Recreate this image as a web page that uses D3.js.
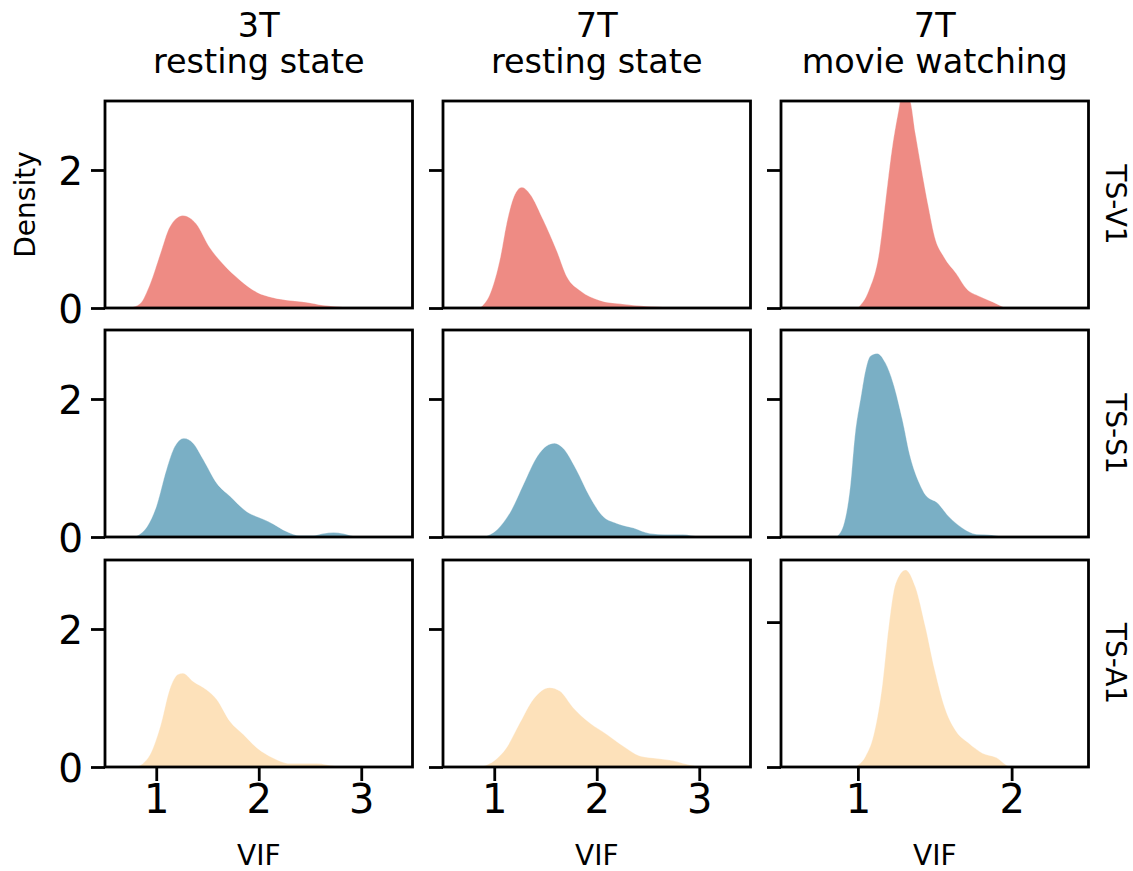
<!DOCTYPE html>
<html>
<head>
<meta charset="utf-8">
<script src="https://cdn.jsdelivr.net/npm/d3@7"></script>
<style>
  body { margin: 0; background: #fff; }
  text { font-family: "DejaVu Sans", sans-serif; fill: #000; }
</style>
</head>
<body>
<div id="chart"></div>
<script>
// column / row categories
var cols = [["3T", "resting state"], ["7T", "resting state"], ["7T", "movie watching"]];
var rows = ["TS-V1", "TS-S1", "TS-A1"];
var colors = ["#ee8b84", "#7aafc5", "#fde1ba"];

// tick labels
var xTicks = [[1, 2, 3], [1, 2, 3], [1, 2]];
var xDomains = [[0.5, 3.5], [0.5, 3.5], [0.5, 2.5]];
var yTicks = [0, 2];
// y limit of each panel (row by row)
var yMax = [[3, 3, 3], [3, 3, 3], [3, 3, 2.857]];

// density curves: [VIF, density]
var v1_3T = [[0.74,0],[0.84,0.06],[0.94,0.35],[1.04,0.79],[1.13,1.17],[1.26,1.34],[1.39,1.22],[1.52,0.88],[1.65,0.64],[1.82,0.40],[1.98,0.23],[2.14,0.15],[2.3,0.11],[2.46,0.085],[2.63,0.04],[2.82,0.015],[3.05,0]];
var v1_7Tr = [[0.86,0],[0.96,0.21],[1.06,0.74],[1.12,1.22],[1.19,1.61],[1.27,1.75],[1.35,1.65],[1.48,1.27],[1.61,0.83],[1.71,0.45],[1.84,0.25],[2.03,0.11],[2.23,0.06],[2.49,0.025],[2.8,0.005],[3.0,0]];
var v1_7Tm = [[1.0,0],[1.07,0.25],[1.14,0.83],[1.18,1.56],[1.22,2.28],[1.26,2.81],[1.29,3.12],[1.34,3.0],[1.375,2.52],[1.42,1.94],[1.46,1.46],[1.5,1.03],[1.56,0.74],[1.64,0.5],[1.71,0.27],[1.79,0.17],[1.88,0.085],[1.96,0]];
var s1_3T = [[0.78,0],[0.91,0.15],[1.0,0.44],[1.1,0.98],[1.18,1.31],[1.27,1.43],[1.36,1.36],[1.46,1.12],[1.59,0.78],[1.72,0.59],[1.88,0.37],[2.04,0.26],[2.14,0.19],[2.27,0.08],[2.4,0.02],[2.53,0.02],[2.63,0.05],[2.73,0.065],[2.82,0.05],[2.95,0.005],[3.0,0]];
var s1_7Tr = [[0.9,0],[1.03,0.11],[1.16,0.37],[1.29,0.78],[1.42,1.17],[1.51,1.32],[1.59,1.36],[1.67,1.29],[1.8,0.98],[1.93,0.59],[2.06,0.3],[2.19,0.2],[2.36,0.13],[2.52,0.05],[2.68,0.035],[2.84,0.035],[3.0,0.005],[3.1,0]];
var s1_7Tm = [[0.86,0],[0.91,0.2],[0.95,0.73],[0.98,1.46],[1.02,2.04],[1.05,2.42],[1.08,2.62],[1.125,2.66],[1.18,2.52],[1.23,2.23],[1.29,1.7],[1.34,1.17],[1.4,0.78],[1.44,0.61],[1.52,0.49],[1.59,0.3],[1.68,0.13],[1.77,0.04],[1.87,0.03],[1.96,0]];
var a1_3T = [[0.81,0],[0.94,0.18],[1.04,0.59],[1.13,1.12],[1.21,1.34],[1.26,1.36],[1.36,1.24],[1.49,1.12],[1.59,0.98],[1.72,0.66],[1.85,0.47],[1.98,0.28],[2.14,0.13],[2.3,0.05],[2.56,0.05],[2.76,0.01],[2.9,0]];
var a1_7Tr = [[0.86,0],[0.99,0.08],[1.12,0.28],[1.25,0.64],[1.38,0.98],[1.54,1.15],[1.64,1.1],[1.77,0.86],[1.93,0.64],[2.1,0.47],[2.26,0.3],[2.42,0.16],[2.55,0.13],[2.71,0.1],[2.88,0.04],[3.0,0.005],[3.05,0]];
var a1_7Tm = [[0.98,0],[1.05,0.15],[1.1,0.42],[1.16,1.15],[1.2,1.93],[1.245,2.53],[1.31,2.72],[1.375,2.48],[1.44,1.93],[1.5,1.34],[1.57,0.79],[1.64,0.49],[1.72,0.33],[1.81,0.19],[1.9,0.13],[1.98,0.01],[2.0,0]];

var curves = [[v1_3T, v1_7Tr, v1_7Tm], [s1_3T, s1_7Tr, s1_7Tm], [a1_3T, a1_7Tr, a1_7Tm]];

var width = 1133, height = 871;
var colLeft = [105, 443, 781],
    panelW = 307.5,
    rowTop = [101, 330, 560],
    panelH = 207;

var svg = d3.select("#chart")
  .append("svg")
    .attr("width", width)
    .attr("height", height);

var defs = svg.append("defs");

rows.forEach(function(rowName, r) {
  cols.forEach(function(col, c) {
    var x = d3.scaleLinear().domain(xDomains[c]).range([0, panelW]);
    var y = d3.scaleLinear().domain([0, yMax[r][c]]).range([panelH, 0]);

    var g = svg.append("g")
      .attr("transform", "translate(" + colLeft[c] + "," + rowTop[r] + ")");

    var clipId = "clip" + r + c;
    defs.append("clipPath").attr("id", clipId)
      .append("rect").attr("width", panelW).attr("height", panelH);

    var area = d3.area()
      .x(function(d) { return x(d[0]); })
      .y0(y(0))
      .y1(function(d) { return y(d[1]); })
      .curve(d3.curveMonotoneX);

    g.append("path")
      .datum(curves[r][c])
      .attr("clip-path", "url(#" + clipId + ")")
      .attr("d", area)
      .attr("fill", colors[r])
      .attr("stroke", "#fff")
      .attr("stroke-opacity", 0.4)
      .attr("stroke-width", 0.8);

    // left axis
    var yAxis = g.append("g").call(d3.axisLeft(y).tickValues(yTicks).tickFormat(d3.format("d"))
      .tickSize(14).tickPadding(8).tickSizeOuter(0));
    if (c > 0) yAxis.selectAll("text").remove();
    yAxis.select(".domain").remove();
    yAxis.selectAll("line").attr("stroke", "#000").attr("stroke-width", 2.8);
    yAxis.selectAll("text").style("font-size", "39px").attr("dy", "0.36em");

    // bottom axis only on last row
    if (r == rows.length - 1) {
      var xAxis = g.append("g")
        .attr("transform", "translate(0," + panelH + ")")
        .call(d3.axisBottom(x).tickValues(xTicks[c]).tickFormat(d3.format("d"))
          .tickSize(14).tickPadding(4).tickSizeOuter(0));
      xAxis.select(".domain").remove();
      xAxis.selectAll("line").attr("stroke", "#000").attr("stroke-width", 2.8);
      xAxis.selectAll("text").style("font-size", "40px");

      g.append("text")
        .attr("x", panelW / 2)
        .attr("y", panelH + 98)
        .attr("text-anchor", "middle")
        .style("font-size", "28px")
        .text("VIF");
    }

    // frame
    g.append("rect")
      .attr("width", panelW)
      .attr("height", panelH)
      .attr("fill", "none")
      .attr("stroke", "#000")
      .attr("stroke-width", 2.8);

    // column titles
    if (r == 0) {
      g.append("text").attr("x", panelW / 2).attr("y", -64)
        .attr("text-anchor", "middle").style("font-size", "33.5px").text(col[0]);
      g.append("text").attr("x", panelW / 2).attr("y", -28)
        .attr("text-anchor", "middle").style("font-size", "33.5px").text(col[1]);
    }

    // row labels on the right
    if (c == cols.length - 1) {
      g.append("text")
        .attr("transform", "translate(" + (panelW + 17) + "," + (panelH / 2) + ") rotate(90)")
        .attr("text-anchor", "middle")
        .style("font-size", "28px")
        .text(rowName);
    }

    if (c == 0 && r == 0) {
      g.append("text")
        .attr("transform", "translate(-70," + (panelH / 2) + ") rotate(-90)")
        .attr("text-anchor", "middle")
        .style("font-size", "28px")
        .text("Density");
    }
  });
});
</script>
</body>
</html>
